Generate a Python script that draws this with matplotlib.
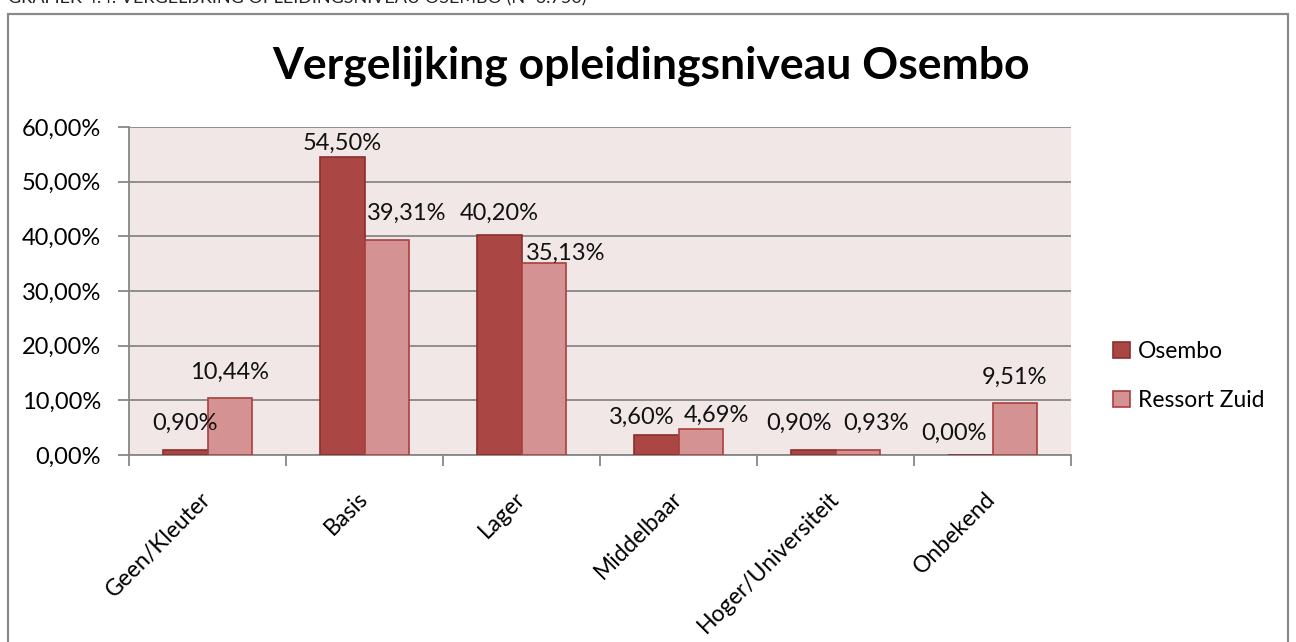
import matplotlib
matplotlib.use("Agg")
import matplotlib.pyplot as plt
from matplotlib.patches import Rectangle
import numpy as np

categories = ["Geen/Kleuter", "Basis", "Lager", "Middelbaar", "Hoger/Universiteit", "Onbekend"]
osembo = [0.90, 54.50, 40.20, 3.60, 0.90, 0.00]
ressort_zuid = [10.44, 39.31, 35.13, 4.69, 0.93, 9.51]
series_names = ["Osembo", "Ressort Zuid"]
yticks = [0, 10, 20, 30, 40, 50, 60]
title = "Vergelijking opleidingsniveau Osembo"
caption = "GRAFIEK 4.4: VERGELIJKING OPLEIDINGSNIVEAU OSEMBO (N=6.750)"

# label nudges in pixels (dx, dy above bar top) - style only
nudge_osembo = [(0, 27), (0, 14), (0, 22), (-14, 18), (-14, 27), (-16, 22)]
nudge_ressort = [(0, 26), (20, 27), (22, 10), (15, 14), (18, 27), (0, 26)]

plt.rcParams['font.family'] = ['Lato', 'DejaVu Sans']

W, H = 1296, 642
fig = plt.figure(figsize=(W / 100, H / 100), dpi=100)

# outer chart frame
fig.patches.append(Rectangle((8 / W, -0.05), (1288 - 8) / W, 1 - 14 / H + 0.05,
                             transform=fig.transFigure, fill=False,
                             edgecolor="#8a8a8a", lw=1.6, zorder=0))
# clipped caption at top
fig.text(8 / W, 1.0 + 2 / H, caption, fontsize=13, ha="left", va="center",
         color="#222222")

left, right, top, bottom = 129, 1071, 127, 455
ax = fig.add_axes([left / W, 1 - bottom / H, (right - left) / W, (bottom - top) / H])
ax.set_facecolor("#f2e7e7")

x = np.arange(len(categories))
bw = 0.2866
c1, e1 = "#aa4643", "#8a2f2d"
c2, e2 = "#d49392", "#a9403e"
b1 = ax.bar(x - bw / 2, osembo, bw, color=c1, edgecolor=e1, lw=1.2, zorder=3, label=series_names[0])
b2 = ax.bar(x + bw / 2, ressort_zuid, bw, color=c2, edgecolor=e2, lw=1.2, zorder=3, label=series_names[1])

def fmt(v):
    return f"{v:.2f}".replace(".", ",") + "%"

FS = 17
for bars, vals, nudges in ((b1, osembo, nudge_osembo), (b2, ressort_zuid, nudge_ressort)):
    for r, v, (dx, dy) in zip(bars, vals, nudges):
        ax.annotate(fmt(v), (r.get_x() + r.get_width() / 2, v), xytext=(dx, dy),
                    textcoords="offset pixels", ha="center", va="center",
                    fontsize=FS, color="#111111", zorder=5, annotation_clip=False)

ax.set_xlim(-0.5, len(categories) - 0.5)
ax.set_ylim(0, 60)
ax.set_yticks(yticks)
ax.set_yticklabels([fmt(v) for v in yticks], fontsize=FS)
ax.yaxis.grid(True, color="#878787", lw=1.3, zorder=1)
ax.set_axisbelow(True)

ax.set_xticks(np.arange(len(categories) + 1) - 0.5, minor=False)
ax.set_xticklabels([])
ax.set_xticks(x, minor=True)
ax.set_xticklabels(categories, minor=True, rotation=45, ha="right", va="center",
                   rotation_mode="anchor", fontsize=16.5)
ax.tick_params(axis="x", which="minor", length=0, pad=29)
ax.tick_params(axis="x", which="major", length=8, color="#878787", width=1.3)
ax.tick_params(axis="y", length=8, color="#878787", width=1.3, pad=12)

for s in ("top", "right"):
    ax.spines[s].set_visible(False)
for s in ("left", "bottom"):
    ax.spines[s].set_color("#878787")
    ax.spines[s].set_linewidth(1.3)

fig.text(651 / W, 1 - 66 / H, title, fontsize=32, fontweight="bold",
         ha="center", va="center", color="#000000")

leg = fig.legend(handles=[b1, b2], labels=series_names, loc="center left",
                 bbox_to_anchor=(1102 / W, 1 - 376 / H), frameon=False,
                 fontsize=16.5, handlelength=0.7, handleheight=0.7,
                 handletextpad=0.35, labelspacing=1.2, borderpad=0)

fig.savefig("out.png", dpi=100)
